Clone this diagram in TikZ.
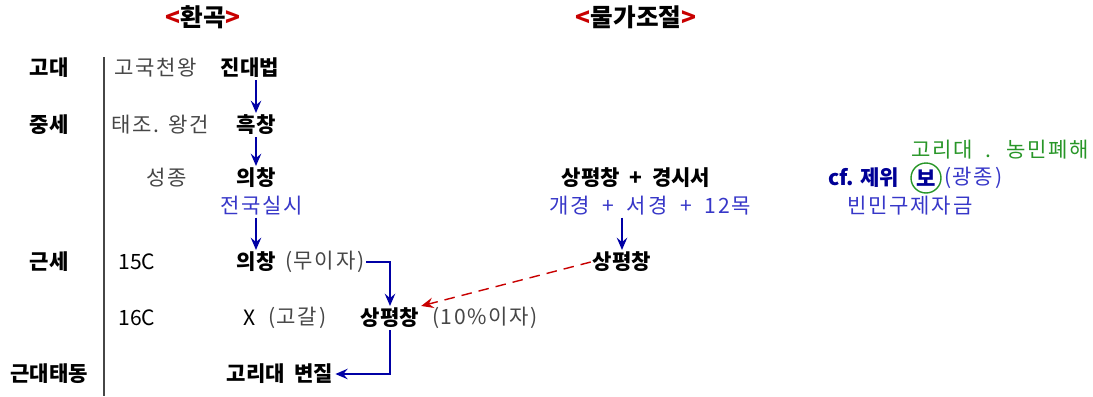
\documentclass[tikz,border=0pt]{standalone}
\usepackage{fontspec}
\setmainfont{Noto Sans CJK KR}
\newfontfamily\widekr[LetterSpace=8]{Noto Sans CJK KR}
\usetikzlibrary{arrows.meta}
\definecolor{flowblue}{RGB}{0,0,165}
\definecolor{noteblue}{RGB}{55,55,200}
\definecolor{cfblue}{RGB}{0,0,150}
\definecolor{boxgreen}{RGB}{40,150,40}
\definecolor{dashred}{RGB}{200,0,0}
\definecolor{kinggray}{RGB}{70,70,70}
\newcommand\diagsize{\fontsize{12}{14}\selectfont}

\begin{document}
\begin{tikzpicture}[x=0.02cm, y=-0.02cm,
  every node/.style={inner sep=1pt, font=\diagsize},
  key/.style={font=\diagsize\bfseries},
  king/.style={text=kinggray, font=\diagsize\widekr},
  note/.style={text=noteblue, font=\diagsize\widekr},
  heading/.style={font=\fontsize{14}{16}\selectfont\bfseries},
  flow/.style={draw=flowblue, thick, -{Stealth[length=7pt,width=6pt,inset=2.5pt]}}]
  \useasboundingbox (0,0) rectangle (1093,396);
  % titles
  \node[heading] (tgrain) at (203,17) {\textcolor{dashred}{<}환곡\textcolor{dashred}{>}};
  \node[heading] (tprice) at (636,17) {\textcolor{dashred}{<}물가조절\textcolor{dashred}{>}};
  % eras
  \node[key] (ancient) at (49,68) {고대};
  \node[key] (medieval) at (49,125) {중세};
  \node[key] (early) at (49,262) {근세};
  \node[key] (modern) at (49,374) {근대태동};
  \draw[kinggray, semithick] (104,57) -- (104,396);
  % grain loans
  \node[king] (gogukcheon) at (156,68) {고국천왕};
  \node[key] (jindae) at (250,68) {진대법};
  \node[king] (taejo) at (160,125) {태조. 왕건};
  \node[key] (heuk) at (256,125) {흑창};
  \node[king] (seongjong) at (167,178) {성종};
  \node[key] (uichang) at (256,178) {의창};
  \node[note] (nation) at (262,206) {전국실시};
  \node (c15) at (137,262) {15C};
  \node[key] (uichang2) at (256,262) {의창};
  \node[king, anchor=west] (noint) at (283,262) {(무이자)};
  \node (c16) at (137,318) {16C};
  \node (ex) at (250,318) {X};
  \node[king, anchor=west] (dry) at (266,318) {(고갈)};
  \node[key] (sp16) at (390,318) {상평창};
  \node[king, anchor=west] (tenp) at (430,318) {(10\%이자)};
  \node[key] (usury) at (280,374) {고리대~ 변질};
  % price control
  \node[key] (spgs) at (636,178) {상평창~ + ~경시서};
  \node[note] (cities) at (650,206) {개경~ + ~서경~ + ~12목};
  \node[key] (sp15) at (622,262) {상평창};
  \node[text=boxgreen, font=\diagsize\widekr] (harm) at (1000,150) {고리대~ . ~농민폐해};
  \node[key, text=cfblue] (cf) at (864,178) {cf. 제위};
  \node[key, text=cfblue, circle, draw=boxgreen, thick, minimum size=0.6cm, inner sep=0pt] (bo) at (926,178) {보};
  \node[note, anchor=west] (gwang) at (942,178) {(광종)};
  \node[note] (relief) at (910,206) {빈민구제자금};
  % arrows
  \draw[flow] (jindae.south -| heuk) -- (heuk);
  \draw[flow] (heuk) -- (uichang);
  \draw[flow] (nation.south -| uichang) -- (uichang2);
  \draw[flow] (noint.east) -| (sp16.north);
  \draw[flow] (sp16.south) |- (usury.east);
  \draw[flow] (cities.south -| sp15) -- (sp15);
  \draw[dashred, thick, dash pattern=on 6pt off 4pt, -{Stealth[length=7pt,width=6pt,inset=2.5pt]}] (sp15.west) -- (sp16.north east);
\end{tikzpicture}
\end{document}
